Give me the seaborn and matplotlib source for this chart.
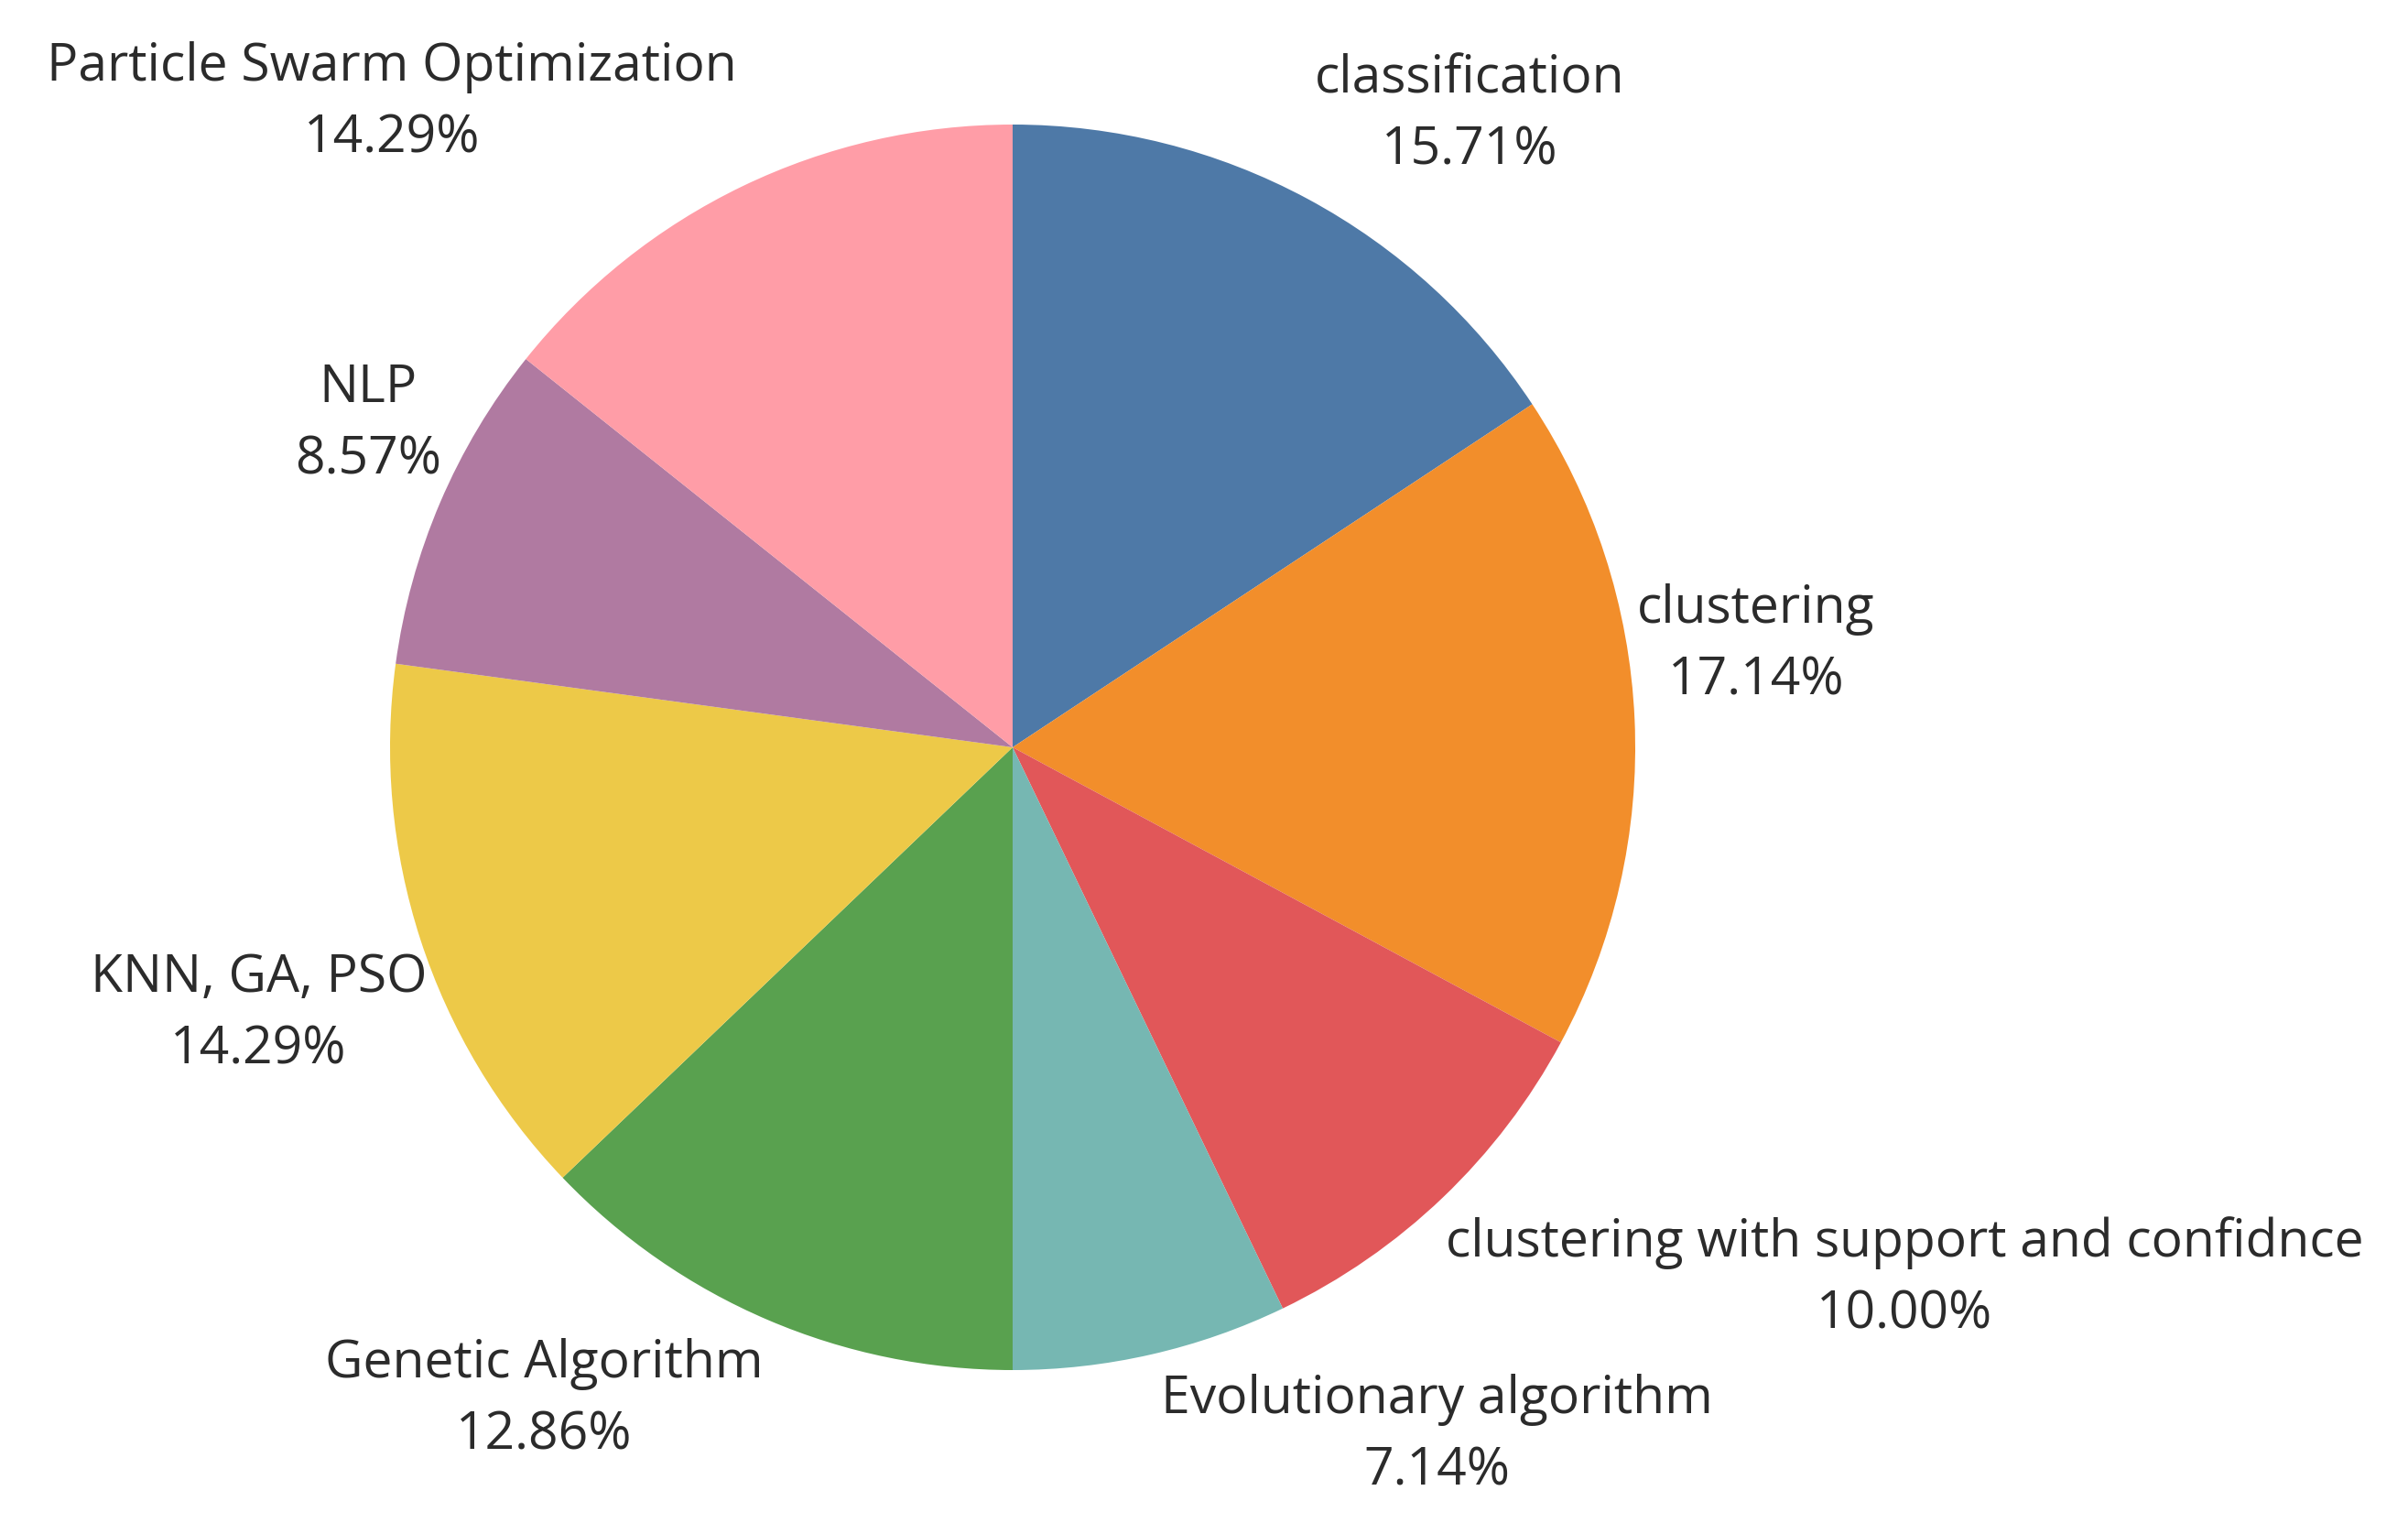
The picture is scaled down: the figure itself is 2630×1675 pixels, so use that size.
import matplotlib
matplotlib.use("Agg")
import matplotlib.pyplot as plt
import seaborn as sns

# data
categories = ["classification", "clustering", "clustering with support and confidnce",
              "Evolutionary algorithm", "Genetic Algorithm", "KNN, GA, PSO",
              "NLP", "Particle Swarm Optimization"]
counts = [11, 12, 7, 5, 9, 10, 6, 10]
colors = ["#4E79A7", "#F28E2B", "#E15759", "#76B7B2", "#59A14F", "#EDC948", "#B07AA1", "#FF9DA7"]

# label positions (in units of the pie radius, relative to the centre)
label_x = [0.734, 1.194, 1.433, 0.681, -0.752, -1.211, -1.035, -0.997]
label_y = [1.015, 0.163, -0.854, -1.105, -1.048, -0.429, 0.518, 1.034]

sns.set_theme(style="white")
plt.rcParams['font.family'] = ['Open Sans', 'DejaVu Sans']

W, H = 2630, 1675
fig = plt.figure(figsize=(W / 100, H / 100), dpi=100)
cx, cy, r = 1106, 816, 680
ax = fig.add_axes([(cx - r) / W, 1 - (cy + r) / H, 2 * r / W, 2 * r / H])

ax.pie(counts, colors=colors, startangle=90, counterclock=False,
       radius=1, wedgeprops=dict(linewidth=0))
ax.set_xlim(-1, 1)
ax.set_ylim(-1, 1)
ax.set_aspect("equal")
ax.axis("off")

total = sum(counts)
for name, n, x, y in zip(categories, counts, label_x, label_y):
    ax.text(x, y, f"{name}\n{100 * n / total:.2f}%", ha="center", va="center",
            multialignment="center", fontsize=41, color="#2b2b2b",
            linespacing=1.5, clip_on=False)

fig.savefig("out.png", dpi=100, facecolor="white")
